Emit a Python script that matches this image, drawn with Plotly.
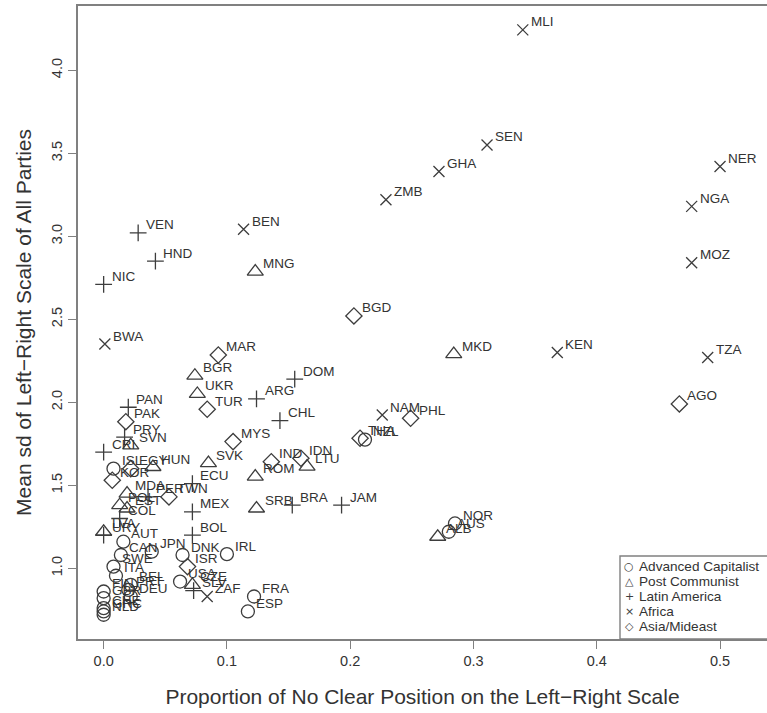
import plotly.graph_objects as go

# ---------------- data ----------------
adv_codes = ["NOR", "AUS", "NZL", "FRA", "ESP", "IRL", "DNK", "USA", "JPN", "AUT", "CAN",
             "SWE", "ITA", "BEL", "DEU", "PRT", "FIN", "GBR", "CHE", "GRC", "NLD", "ISL"]
adv_x = [0.285, 0.280, 0.212, 0.122, 0.117, 0.100, 0.064, 0.062, 0.039, 0.016, 0.014,
         0.008, 0.010, 0.022, 0.022, 0.020, 0.000, 0.000, 0.000, 0.000, 0.000, 0.008]
adv_y = [1.27, 1.22, 1.775, 0.83, 0.74, 1.085, 1.08, 0.92, 1.10, 1.16, 1.08,
         1.01, 0.955, 0.90, 0.83, 0.87, 0.86, 0.82, 0.76, 0.74, 0.72, 1.60]

post_codes = ["MNG", "MKD", "BGR", "UKR", "SVK", "ROM", "SRB", "LTU", "ALB", "SVN",
              "HUN", "MDA", "LVA", "CZE", "EST", "POL"]
post_x = [0.123, 0.284, 0.074, 0.076, 0.085, 0.123, 0.124, 0.165, 0.271, 0.022,
          0.040, 0.019, 0.000, 0.072, 0.019, 0.013]
post_y = [2.787, 2.29, 2.16, 2.05, 1.633, 1.552, 1.36, 1.612, 1.19, 1.74,
          1.61, 1.45, 1.22, 0.90, 1.36, 1.38]

lat_codes = ["VEN", "HND", "NIC", "DOM", "ARG", "PAN", "CHL", "PRY", "CRI", "ECU",
             "PER", "MEX", "COL", "BRA", "JAM", "BOL", "URY", "SLV"]
lat_x = [0.028, 0.042, 0.000, 0.155, 0.124, 0.020, 0.143, 0.017, 0.000, 0.072,
         0.036, 0.072, 0.013, 0.153, 0.193, 0.072, 0.000, 0.073]
lat_y = [3.02, 2.85, 2.71, 2.14, 2.02, 1.97, 1.89, 1.79, 1.70, 1.51,
         1.43, 1.34, 1.30, 1.38, 1.38, 1.20, 1.20, 0.865]

afr_codes = ["MLI", "NER", "SEN", "GHA", "ZMB", "BEN", "NGA", "MOZ", "KEN", "TZA",
             "BWA", "NAM", "ZAF"]
afr_x = [0.340, 0.500, 0.311, 0.272, 0.229, 0.1135, 0.477, 0.477, 0.368, 0.490,
         0.001, 0.226, 0.084]
afr_y = [4.243, 3.42, 3.55, 3.39, 3.22, 3.042, 3.18, 2.84, 2.30, 2.27,
         2.351, 1.923, 0.83]

asia_codes = ["BGD", "MAR", "PAK", "TUR", "MYS", "IND", "IDN", "THA", "PHL", "AGO",
              "EGY", "KOR", "TWN", "ISR"]
asia_x = [0.203, 0.093, 0.018, 0.084, 0.105, 0.136, 0.160, 0.208, 0.249, 0.467,
          0.022, 0.007, 0.053, 0.068]
asia_y = [2.52, 2.285, 1.883, 1.958, 1.763, 1.642, 1.663, 1.783, 1.904, 1.99,
          1.60, 1.53, 1.43, 1.01]

group_names = ["Advanced Capitalist", "Post Communist", "Latin America", "Africa", "Asia/Mideast"]
x_ticks = [0.0, 0.1, 0.2, 0.3, 0.4, 0.5]
y_ticks = [1.0, 1.5, 2.0, 2.5, 3.0, 3.5, 4.0]

# ---------------- style ----------------
FONT = "Liberation Sans, Arial, Helvetica, sans-serif"
MC = "#3d3d3d"
TC = "#333333"
AXC = "#808080"

groups = [
    (adv_codes, adv_x, adv_y, "circle-open", 13),
    (post_codes, post_x, post_y, "triangle-up-open", 14),
    (lat_codes, lat_x, lat_y, "cross-thin-open", 12),
    (afr_codes, afr_x, afr_y, "x-thin-open", 11),
    (asia_codes, asia_x, asia_y, "diamond-open", 12.5),
]

fig = go.Figure()
annotations = []
for (codes, xs, ys, sym, size), gname in zip(groups, group_names):
    fig.add_trace(go.Scatter(
        x=xs, y=ys, mode="markers", name=gname, text=codes,
        marker=dict(symbol=sym, size=size, color=MC, line=dict(color=MC, width=1.3)),
        showlegend=False, hoverinfo="text+x+y",
    ))
    for c, xv, yv in zip(codes, xs, ys):
        annotations.append(dict(
            x=xv, y=yv, xref="x", yref="y", text=c, showarrow=False,
            xanchor="left", yanchor="middle", xshift=7, yshift=8, borderpad=0,
            font=dict(family=FONT, size=13.5, color=TC),
        ))

# ---------------- legend (drawn as a box with glyph annotations) ----------------
L, T, B, R = 78, 6, 74, 0
W, H = 767, 713
pw, ph = W - L - R, H - T - B


def px_to_paper_x(px):
    return (px - L) / pw


def py_to_paper_y(py):
    return (H - B - py) / ph


leg_glyphs = ["\u25CB", "\u25B3", "+", "\u00D7", "\u25C7"]
leg_rows = [566, 581, 596, 611, 626]
for g, name, ry in zip(leg_glyphs, group_names, leg_rows):
    annotations.append(dict(
        x=px_to_paper_x(629), y=py_to_paper_y(ry), xref="paper", yref="paper",
        text=g, showarrow=False, xanchor="center", yanchor="middle", borderpad=0,
        font=dict(family="DejaVu Sans", size=11, color=MC),
    ))
    annotations.append(dict(
        x=px_to_paper_x(638), y=py_to_paper_y(ry), xref="paper", yref="paper",
        text=name, showarrow=False, xanchor="left", yanchor="middle", borderpad=0,
        font=dict(family=FONT, size=13.6, color=TC),
    ))

shapes = [dict(
    type="rect", xref="paper", yref="paper",
    x0=px_to_paper_x(620), x1=1.05, y0=0, y1=py_to_paper_y(556),
    line=dict(color=AXC, width=1.4), fillcolor="rgba(0,0,0,0)", layer="above",
)]

fig.update_layout(
    width=W, height=H,
    margin=dict(l=L, r=R, t=T, b=B, pad=0, autoexpand=False),
    paper_bgcolor="white", plot_bgcolor="white",
    font=dict(family=FONT, color=TC),
    annotations=annotations, shapes=shapes,
    showlegend=False,
)
fig.update_xaxes(
    automargin=False,
    range=[-0.0208, 0.5381], tickvals=x_ticks, tickformat=".1f",
    ticks="outside", ticklen=8, tickwidth=1.3, tickcolor=AXC,
    showline=True, linecolor=AXC, linewidth=1.5, mirror=True,
    showgrid=False, zeroline=False,
    tickfont=dict(family=FONT, size=14.5, color=TC),
    title=dict(text="Proportion of No Clear Position on the Left\u2212Right Scale",
               font=dict(family=FONT, size=21, color=TC), standoff=21),
)
fig.update_yaxes(
    automargin=False,
    range=[0.574, 4.387], tickvals=y_ticks, tickformat=".1f", tickangle=-90,
    ticks="outside", ticklen=8, tickwidth=1.3, tickcolor=AXC,
    showline=True, linecolor=AXC, linewidth=1.5, mirror=False,
    showgrid=False, zeroline=False,
    tickfont=dict(family=FONT, size=14.5, color=TC),
    title=dict(text="Mean sd of Left\u2212Right Scale of All Parties",
               font=dict(family=FONT, size=21, color=TC), standoff=12),
)

fig.write_html(
    "out.html",
    config={"displayModeBar": False},
    post_script="document.body.style.margin='0';document.body.style.overflow='hidden';",
)
